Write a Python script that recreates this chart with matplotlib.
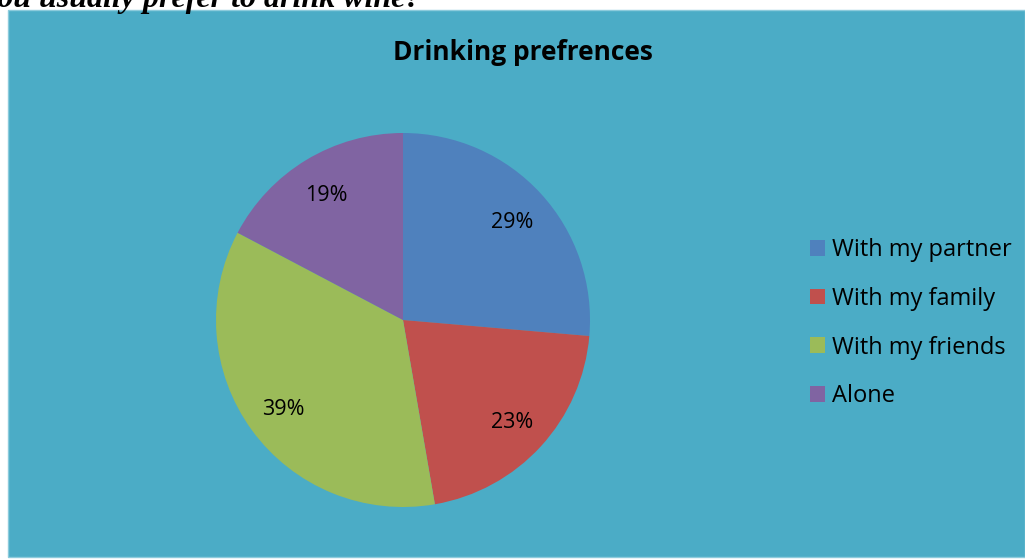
import matplotlib.pyplot as plt
from matplotlib.patches import Rectangle

categories = ["With my partner", "With my family", "With my friends", "Alone"]
values = [29, 23, 39, 19]
colors = ["#4F81BD", "#C0504D", "#9BBB59", "#8064A2"]

W, H = 1025, 559
fig = plt.figure(figsize=(W / 100, H / 100), dpi=100)
fig.patch.set_facecolor("white")

# cropped question text from the page above the chart
fig.text(422 / W, 1 - 7 / H, "you usually prefer to drink wine?", ha="right", va="baseline",
         fontsize=23, fontweight="bold", fontstyle="italic", family="Liberation Serif")

# chart area
fig.patches.append(Rectangle((8 / W, 2 / H), 1 - 8 / W, (557 - 10) / H, transform=fig.transFigure,
                             facecolor="#4BACC6", edgecolor="#8CCBDC", linewidth=1, zorder=-1))

fig.text(523 / W, 1 - 53 / H, "Drinking prefrences", ha="center", va="center",
         fontsize=19, fontweight="bold", family="Open Sans")

cx, cy, r = 403, 320, 187
ax = fig.add_axes([(cx - r) / W, (H - cy - r) / H, 2 * r / W, 2 * r / H])
wedges, texts = ax.pie(values, colors=colors, startangle=90, counterclock=False,
                       labels=[f"{v}%" for v in values], labeldistance=0.79,
                       textprops=dict(fontsize=15.5, family="Open Sans", ha="center",
                                      va="center_baseline"))
ax.set_xlim(-1, 1)
ax.set_ylim(-1, 1)
ax.set_aspect("equal")
ax.axis("off")

fig.legend(wedges, categories, loc="upper left", bbox_to_anchor=(810 / W, 1 - 238 / H),
           frameon=False, prop=dict(family="Open Sans", size=17), handlelength=0.65, handleheight=0.65,
           handletextpad=0.3, labelspacing=1.05, borderpad=0, borderaxespad=0)

fig.savefig("out.png", dpi=100, facecolor=fig.get_facecolor())
